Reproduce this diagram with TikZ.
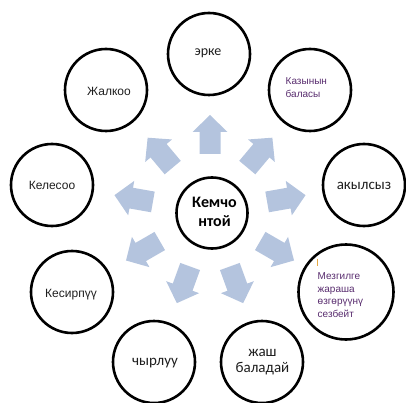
\documentclass[tikz,border=0pt]{standalone}
\usepackage{fontspec}
\setmainfont{Liberation Sans}
\newfontfamily\calibri{Carlito}
\definecolor{arrowblue}{RGB}{180,196,222}
\definecolor{txtpurple}{RGB}{88,44,110}
\definecolor{txtdark}{RGB}{30,30,30}
\definecolor{cursororange}{RGB}{230,170,70}
\begin{document}
\begin{tikzpicture}[x=1pt,y=-1pt,
  ring/.style={circle,draw=black,line width=2.6pt,minimum size=82pt,inner sep=0pt},
  blockarrow/.style={fill=arrowblue},
  lbl/.style={inner sep=0pt,align=center,text=txtdark},
  arialtxt/.style={font=\fontsize{12}{14}\selectfont},
  smalltxt/.style={inner sep=0pt,align=left,text=txtpurple,anchor=west},
  calitxt/.style={font=\calibri\fontsize{15}{16}\selectfont}]
\useasboundingbox (0,0) rectangle (406,403);
\coordinate (hub) at (210,212);
% radial block arrows
\foreach \a in {90,50,10,-30,-70,-110,-150,170,130}{
  \fill[blockarrow,shift={(hub)},rotate=\a]
    (58,-10.5) -- (80,-10.5) -- (80,-17.5) -- (97,0) -- (80,17.5) -- (80,10.5) -- (58,10.5) -- cycle;
}
% circles
\node[ring] (erke) at (209,54) {};
\node[ring] (kazyn) at (310,90) {};
\node[ring] (akyl) at (364,185) {};
\node[ring,minimum size=95pt] (mezg) at (346,292) {};
\node[ring] (jash) at (262,362) {};
\node[ring] (chyr) at (154,362) {};
\node[ring] (kesir) at (72,292) {};
\node[ring] (keles) at (52,185) {};
\node[ring] (jalk) at (106,90) {};
\node[ring,minimum size=71pt] (hubcircle) at (212,213) {};
% texts
\node[lbl,calitxt,font=\calibri\fontsize{14}{16}\selectfont] (terke) at (208,53) {эрке};
\node[smalltxt,font=\fontsize{10}{12.5}\selectfont] (tkazyn) at (285.5,87.5) {Казынын\\баласы};
\node[lbl,calitxt] (takyl) at (364,186) {акылсыз};
\node[smalltxt,font=\fontsize{10}{12.5}\selectfont] (tmezg) at (317.5,295) {Мезгилге\\жараша\\өзгөрүүнү\\сезбейт};
\node[lbl,calitxt] (tjash) at (262.5,362) {жаш\\баладай};
\node[lbl,calitxt] (tchyr) at (155,363) {чырлуу};
\node[lbl,arialtxt] (tkesir) at (71,295) {Кесирпүү};
\node[lbl,arialtxt] (tkeles) at (52,185) {Келесоо};
\node[lbl,arialtxt] (tjalk) at (109,91) {Жалкоо};
\node[lbl,font=\calibri\bfseries\fontsize{16}{19}\selectfont,text=black] (thub) at (214.5,211.5) {Кемчо\\нтой};
% small cursor mark
\coordinate (curtop) at (317.8,258.5);
\coordinate (curbot) at (317.8,266);
\draw[cursororange,line width=0.8pt] (curtop) -- (curbot);
\end{tikzpicture}
\end{document}
